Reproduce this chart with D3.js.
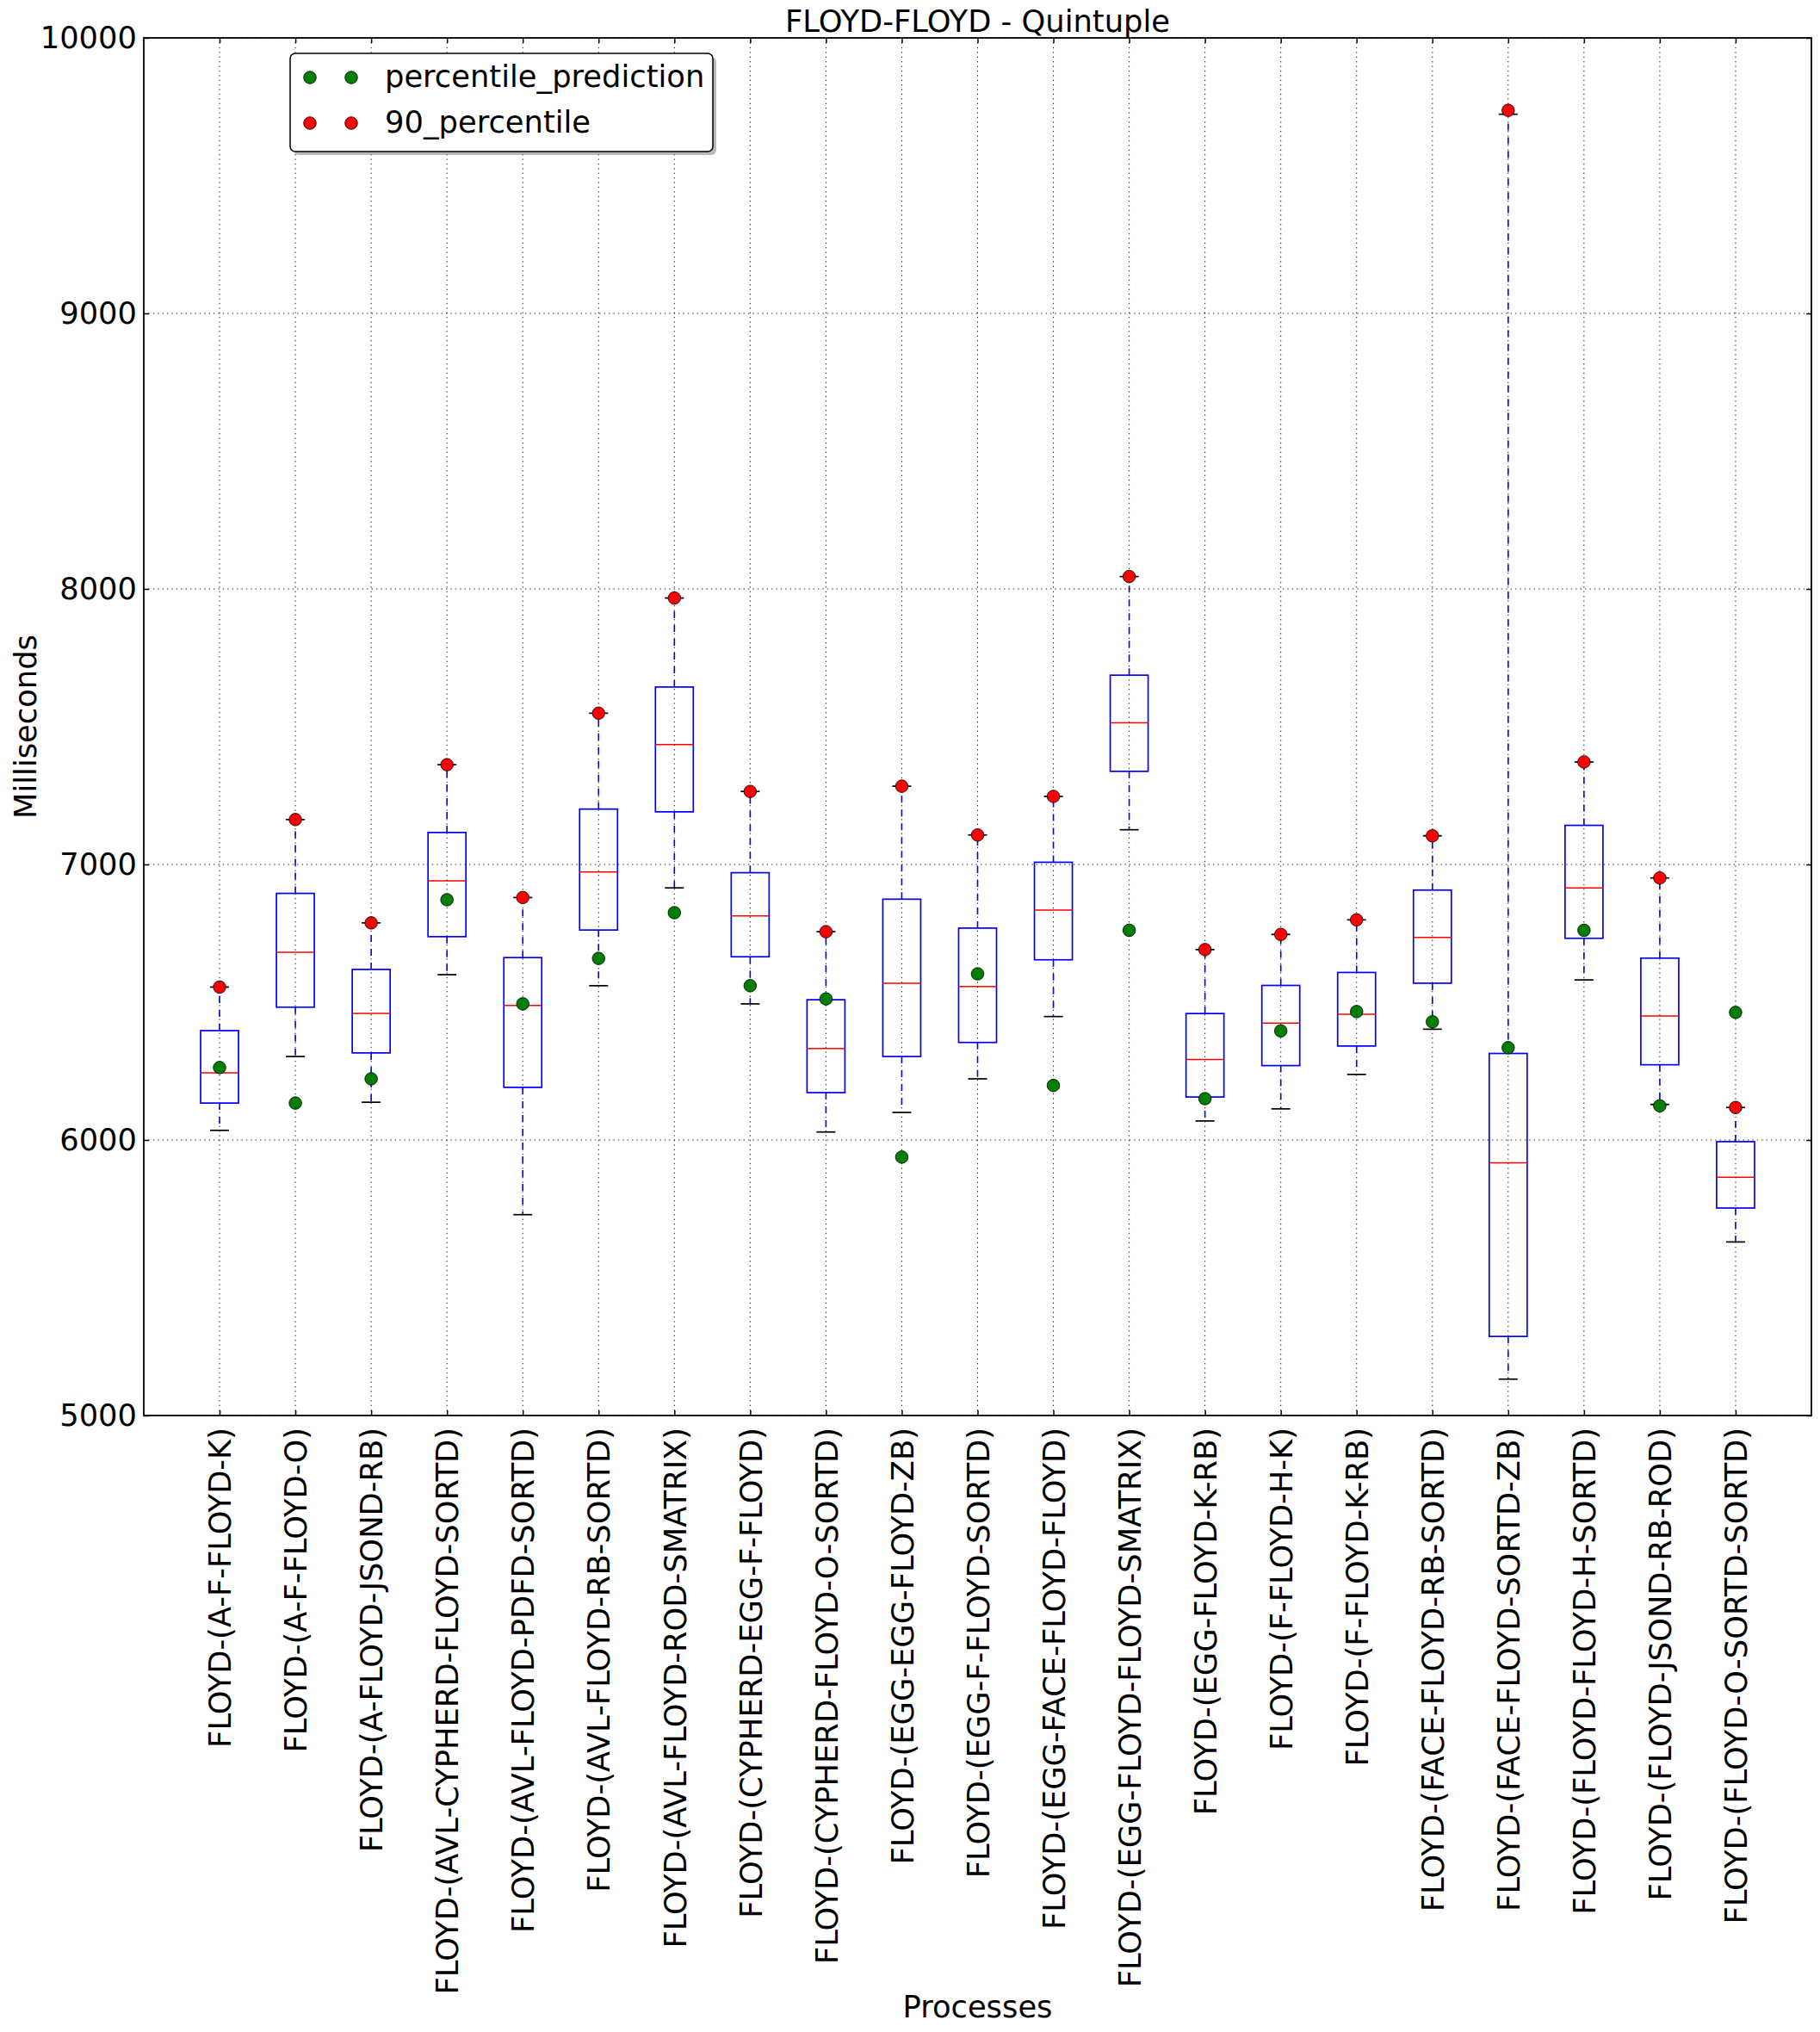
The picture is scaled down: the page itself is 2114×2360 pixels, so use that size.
<!DOCTYPE html>
<html>
<head>
<meta charset="utf-8">
<script src="https://cdn.jsdelivr.net/npm/d3@7"></script>
<style>
  html, body { margin: 0; padding: 0; background: #fff; }
  svg { display: block; font-family: "DejaVu Sans", sans-serif; }
</style>
</head>
<body>
<svg id="chart" width="2114" height="2360"></svg>
<script>
const categories = [
  "FLOYD-(A-F-FLOYD-K)",
  "FLOYD-(A-F-FLOYD-O)",
  "FLOYD-(A-FLOYD-JSOND-RB)",
  "FLOYD-(AVL-CYPHERD-FLOYD-SORTD)",
  "FLOYD-(AVL-FLOYD-PDFD-SORTD)",
  "FLOYD-(AVL-FLOYD-RB-SORTD)",
  "FLOYD-(AVL-FLOYD-ROD-SMATRIX)",
  "FLOYD-(CYPHERD-EGG-F-FLOYD)",
  "FLOYD-(CYPHERD-FLOYD-O-SORTD)",
  "FLOYD-(EGG-EGG-FLOYD-ZB)",
  "FLOYD-(EGG-F-FLOYD-SORTD)",
  "FLOYD-(EGG-FACE-FLOYD-FLOYD)",
  "FLOYD-(EGG-FLOYD-FLOYD-SMATRIX)",
  "FLOYD-(EGG-FLOYD-K-RB)",
  "FLOYD-(F-FLOYD-H-K)",
  "FLOYD-(F-FLOYD-K-RB)",
  "FLOYD-(FACE-FLOYD-RB-SORTD)",
  "FLOYD-(FACE-FLOYD-SORTD-ZB)",
  "FLOYD-(FLOYD-FLOYD-H-SORTD)",
  "FLOYD-(FLOYD-JSOND-RB-ROD)",
  "FLOYD-(FLOYD-O-SORTD-SORTD)"
];
const whiskerLow  = [6035, 6303, 6137, 6600, 5729, 6560, 6915, 6494, 6029, 6100, 6222, 6448, 7126, 6069, 6113, 6238, 6402, 5132, 6581, 6129, 5630];
const q1          = [6134, 6482, 6316, 6738, 6191, 6762, 7191, 6665, 6172, 6303, 6354, 6654, 7338, 6156, 6270, 6341, 6569, 5287, 6732, 6273, 5753];
const median      = [6244, 6681, 6459, 6941, 6488, 6973, 7435, 6813, 6332, 6569, 6557, 6834, 7514, 6292, 6424, 6456, 6735, 5917, 6915, 6450, 5865];
const q3          = [6397, 6895, 6619, 7116, 6662, 7201, 7644, 6970, 6509, 6874, 6769, 7008, 7687, 6459, 6561, 6608, 6907, 6314, 7142, 6660, 5994];
const whiskerHigh = [6555, 7163, 6788, 7362, 6880, 7549, 7967, 7265, 6756, 7284, 7107, 7247, 8045, 6691, 6746, 6799, 7104, 9723, 7372, 6951, 6118];
const percentilePrediction = [6263, 6134, 6222, 6872, 6494, 6659, 6825, 6560, 6512, 5938, 6603, 6198, 6761, 6150, 6396, 6466, 6429, 6335, 6761, 6124, 6463];
const percentile90 = [6555, 7163, 6788, 7362, 6880, 7549, 7967, 7265, 6756, 7284, 7107, 7247, 8045, 6691, 6746, 6799, 7104, 9737, 7372, 6951, 6118];
const yTicks = [5000, 6000, 7000, 8000, 9000, 10000];
const legendLabels = ["percentile_prediction", "90_percentile"];

const W = 2114, H = 2360;
const L = 167, R = 2104, T = 44, B = 1644;
const FS = 35.3;
const svg = d3.select("#chart");

const positions = categories.map((c, i) => i + 1);
const x = d3.scaleLinear().domain([0, categories.length + 1]).range([L, R]);
const y = d3.scaleLinear().domain([5000, 10000]).range([B, T]);
const step = x(1) - x(0);
const boxW = step * 0.5, capW = step * 0.25;

const data = categories.map((c, i) => ({
  c, pos: positions[i], lo: whiskerLow[i], q1: q1[i], med: median[i], q3: q3[i], hi: whiskerHigh[i],
  pred: percentilePrediction[i], p90: percentile90[i]
}));

const plot = svg.append("g");

// whiskers
plot.selectAll(".wl").data(data).join("line")
  .attr("x1", d => x(d.pos)).attr("x2", d => x(d.pos))
  .attr("y1", d => y(d.q1)).attr("y2", d => y(d.lo))
  .attr("stroke", "#0000ff").attr("stroke-width", 1.6).attr("stroke-dasharray", "8,8");
plot.selectAll(".wh").data(data).join("line")
  .attr("x1", d => x(d.pos)).attr("x2", d => x(d.pos))
  .attr("y1", d => y(d.q3)).attr("y2", d => y(d.hi))
  .attr("stroke", "#0000ff").attr("stroke-width", 1.6).attr("stroke-dasharray", "8,8");
// caps
plot.selectAll(".cl").data(data).join("line")
  .attr("x1", d => x(d.pos) - capW / 2).attr("x2", d => x(d.pos) + capW / 2)
  .attr("y1", d => y(d.lo)).attr("y2", d => y(d.lo))
  .attr("stroke", "#000").attr("stroke-width", 1.7);
plot.selectAll(".ch").data(data).join("line")
  .attr("x1", d => x(d.pos) - capW / 2).attr("x2", d => x(d.pos) + capW / 2)
  .attr("y1", d => y(d.hi)).attr("y2", d => y(d.hi))
  .attr("stroke", "#000").attr("stroke-width", 1.7);
// boxes
plot.selectAll(".box").data(data).join("rect")
  .attr("x", d => x(d.pos) - boxW / 2).attr("width", boxW)
  .attr("y", d => y(d.q3)).attr("height", d => y(d.q1) - y(d.q3))
  .attr("fill", "none").attr("stroke", "#0000ff").attr("stroke-width", 1.7);
// medians
plot.selectAll(".med").data(data).join("line")
  .attr("x1", d => x(d.pos) - boxW / 2).attr("x2", d => x(d.pos) + boxW / 2)
  .attr("y1", d => y(d.med)).attr("y2", d => y(d.med))
  .attr("stroke", "#ff0000").attr("stroke-width", 1.5);
// points
const MR = 7.3;
plot.selectAll(".pred").data(data).join("circle")
  .attr("cx", d => x(d.pos)).attr("cy", d => y(d.pred)).attr("r", MR)
  .attr("fill", "#008000").attr("stroke", "#000").attr("stroke-width", 0.8);
plot.selectAll(".p90").data(data).join("circle")
  .attr("cx", d => x(d.pos)).attr("cy", d => y(d.p90)).attr("r", MR)
  .attr("fill", "#ff0000").attr("stroke", "#000").attr("stroke-width", 0.8);

// grid (drawn above data, classic style)
const grid = svg.append("g");
grid.selectAll(".gx").data(positions).join("line")
  .attr("x1", d => x(d)).attr("x2", d => x(d)).attr("y1", T).attr("y2", B)
  .attr("stroke", "#222").attr("stroke-width", 1).attr("stroke-dasharray", "1.4,4");
grid.selectAll(".gy").data(yTicks).join("line")
  .attr("x1", L).attr("x2", R).attr("y1", d => y(d)).attr("y2", d => y(d))
  .attr("stroke", "#222").attr("stroke-width", 1).attr("stroke-dasharray", "1.4,4");

// axes
const TL = 6;
const axL = svg.append("g").attr("transform", `translate(${L},0)`)
  .call(d3.axisLeft(y).tickValues(yTicks).tickFormat(d3.format("d")).tickSize(-TL).tickPadding(8));
axL.select(".domain").remove();
axL.selectAll("line").attr("stroke", "#000").attr("stroke-width", 1.5);
axL.selectAll("text").attr("font-size", FS).attr("font-family", "DejaVu Sans").attr("fill", "#000").attr("dy", "0.33em");

const axR = svg.append("g").attr("transform", `translate(${R},0)`)
  .call(d3.axisRight(y).tickValues(yTicks).tickFormat("").tickSize(-TL));
axR.select(".domain").remove();
axR.selectAll("line").attr("stroke", "#000").attr("stroke-width", 1.5);

const axB = svg.append("g").attr("transform", `translate(0,${B})`)
  .call(d3.axisBottom(x).tickValues(positions).tickFormat((d, i) => categories[i]).tickSize(-TL));
axB.select(".domain").remove();
axB.selectAll("line").attr("stroke", "#000").attr("stroke-width", 1.5);
axB.selectAll("text")
  .attr("font-size", FS).attr("font-family", "DejaVu Sans").attr("fill", "#000")
  .attr("transform", "rotate(-90)")
  .attr("x", -14).attr("y", 0).attr("dy", "0.36em")
  .attr("text-anchor", "end");

const axT = svg.append("g").attr("transform", `translate(0,${T})`)
  .call(d3.axisTop(x).tickValues(positions).tickFormat("").tickSize(-TL));
axT.select(".domain").remove();
axT.selectAll("line").attr("stroke", "#000").attr("stroke-width", 1.5);

// legend
const lg = svg.append("g");
const LX = 337, LY = 62, LW = 491, LH = 114;
lg.append("rect").attr("x", LX + 4).attr("y", LY + 4).attr("width", LW).attr("height", LH)
  .attr("rx", 6).attr("fill", "#808080").attr("opacity", 0.55);
lg.append("rect").attr("x", LX).attr("y", LY).attr("width", LW).attr("height", LH)
  .attr("rx", 6).attr("fill", "#fff").attr("stroke", "#000").attr("stroke-width", 1.5);
const legendColors = ["#008000", "#ff0000"];
legendLabels.forEach((lab, i) => {
  const cy = 90 + i * 53;
  [360, 408].forEach(cx => {
    lg.append("circle").attr("cx", cx).attr("cy", cy).attr("r", MR)
      .attr("fill", legendColors[i]).attr("stroke", "#000").attr("stroke-width", 0.8);
  });
  lg.append("text").attr("x", 447).attr("y", cy + 11).attr("font-size", FS).attr("fill", "#000").text(lab);
});

// frame
svg.append("rect").attr("x", L).attr("y", T).attr("width", R - L).attr("height", B - T)
  .attr("fill", "none").attr("stroke", "#000").attr("stroke-width", 1.8);

// titles
svg.append("text").attr("x", (L + R) / 2).attr("y", 37).attr("text-anchor", "middle")
  .attr("font-size", FS).attr("fill", "#000").text("FLOYD-FLOYD - Quintuple");
svg.append("text").attr("x", (L + R) / 2).attr("y", 2343).attr("text-anchor", "middle")
  .attr("font-size", FS).attr("fill", "#000").text("Processes");
svg.append("text").attr("transform", `translate(42,${(T + B) / 2}) rotate(-90)`).attr("text-anchor", "middle")
  .attr("font-size", FS).attr("fill", "#000").text("Milliseconds");
</script>
</body>
</html>
